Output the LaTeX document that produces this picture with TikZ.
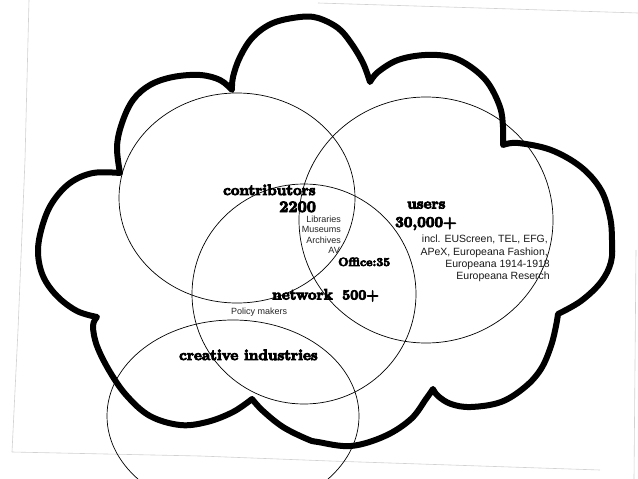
\documentclass[tikz,border=0pt]{standalone}
\usepackage{fontspec}
\newfontfamily\fatfont{lmroman10-bold.otf}[FakeBold=6]
\newfontfamily\arialf{Liberation Sans}
\begin{document}
\begin{tikzpicture}[x=1pt,y=-1pt,
  cloudline/.style={line width=6pt,line join=round,line cap=round},
  ring/.style={line width=0.7pt},
  scanline/.style={line width=0.6pt,black!18},
  fat/.style={inner sep=0pt,font=\fatfont\fontsize{15}{15}\selectfont},
  small/.style={inner sep=0pt,font=\arialf\fontsize{9}{9}\selectfont,text=black!85},
  note/.style={inner sep=0pt,font=\arialf\fontsize{10.5}{10.5}\selectfont,text=black!90}]
\useasboundingbox (0,0) rectangle (638,479);
\clip (0,0) rectangle (638,479);
\fill[white] (0,0) rectangle (638,479);
% scan edges
\draw[scanline] (29,0) -- (25,160) -- (18,330) -- (12,452);
\draw[scanline] (12,452) -- (200,456) -- (330,461) -- (600,470);
\draw[scanline] (636,250) -- (634,479);
\draw[scanline] (318,3) -- (480,8) -- (638,13);
% cloud
\draw[cloudline]
 plot[smooth,tension=0.6] coordinates {(120,173) (117,147) (122,123) (133,100) (150,85) (173,77) (200,75) (220,80) (232,90)}
 -- plot[smooth,tension=0.6] coordinates {(232,90) (233,77) (240,57) (253,37) (273,23) (300,17) (318,18) (338,28) (351,43) (363,63) (370,82)}
 -- plot[smooth,tension=0.6] coordinates {(370,82) (378,72) (398,60) (425,55) (451,57) (471,67) (488,83) (500,107) (503,127) (503,145)}
 -- plot[smooth,tension=0.6] coordinates {(503,145) (518,143) (551,150) (581,167) (601,190) (610,217) (612,240) (611,262) (601,282) (581,301) (558,314)}
 -- plot[smooth,tension=0.6] coordinates {(558,314) (556,326) (551,346) (541,369) (525,387) (501,402) (471,407) (451,404) (438,396) (433,389)}
 -- plot[smooth,tension=0.6] coordinates {(433,389) (426,399) (411,419) (385,436) (351,446) (318,442) (307,439) (283,427) (263,411) (252,399)}
 -- plot[smooth,tension=0.6] coordinates {(252,399) (233,412) (207,422) (180,425) (150,416) (127,396) (110,372) (97,346) (93,326) (97,317)}
 -- plot[smooth,tension=0.6] coordinates {(97,317) (77,311) (57,296) (43,276) (38,252) (42,227) (52,203) (70,183) (93,173) (120,173)}
 -- cycle;
% circles
\draw[ring] (237,198) ellipse [x radius=118,y radius=105];
\draw[ring] (426,220) ellipse [x radius=127,y radius=123];
\draw[ring] (304,294) ellipse [x radius=112,y radius=110];
\draw[ring] (233,416) ellipse [x radius=126,y radius=96];
% labels
\node[fat,anchor=base west] (contrib) at (223,195) {contributors};
\node[fat,anchor=base west,font=\fatfont\fontsize{16}{16}\selectfont] (n2200) at (279,212) {2200};
\node[small,anchor=base east] (lib) at (341,222) {Libraries};
\node[small,anchor=base east] (mus) at (341,232.5) {Museums};
\node[small,anchor=base east] (arc) at (341,243.5) {Archives};
\node[small,anchor=base east] (av) at (340,253.5) {AV};
\node[fat,anchor=base west,font=\fatfont\fontsize{12}{12}\selectfont] (office) at (338,266) {Office:35};
\node[fat,anchor=base west] (network) at (272,299.5) {network};
\node[fat,anchor=base west,font=\fatfont\fontsize{14}{14}\selectfont] (n500) at (342,299.5) {500+};
\node[small,anchor=base west] (policy) at (231,314.5) {Policy makers};
\node[fat,anchor=base west] (users) at (407,208.5) {users};
\node[fat,anchor=base west] (n30000) at (395,227) {30,000+};
\node[note,anchor=base east] (incl) at (548,242) {incl. EUScreen, TEL, EFG,};
\node[note,anchor=base east] (apex) at (548,255) {APeX, Europeana Fashion,};
\node[note,anchor=base east] (e1914) at (550,267) {Europeana 1914-1918};
\node[note,anchor=base east] (eres) at (550,279) {Europeana Reserch};
\node[fat,anchor=base west] (creative) at (179,360) {creative industries};
\end{tikzpicture}
\end{document}
